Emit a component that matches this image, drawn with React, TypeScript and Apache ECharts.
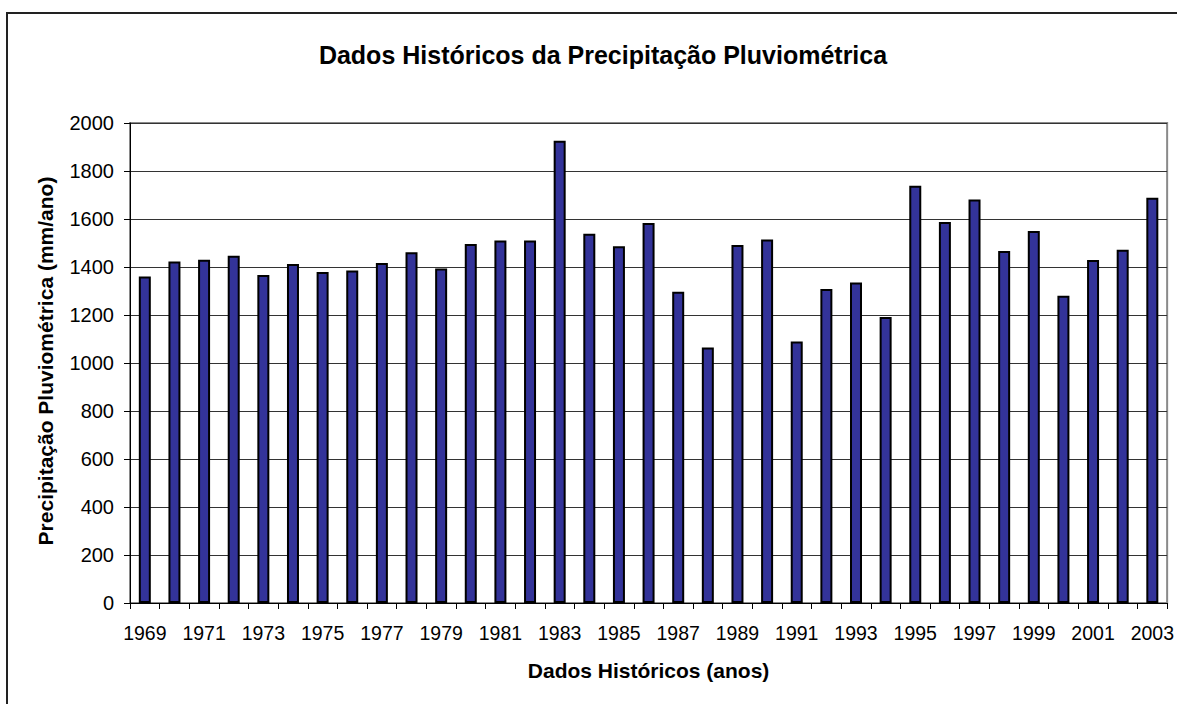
import React, { useEffect, useRef } from "react";
import * as echarts from "echarts";

const years: string[] = [
  "1969", "1970", "1971", "1972", "1973", "1974", "1975", "1976", "1977", "1978",
  "1979", "1980", "1981", "1982", "1983", "1984", "1985", "1986", "1987", "1988",
  "1989", "1990", "1991", "1992", "1993", "1994", "1995", "1996", "1997", "1998",
  "1999", "2000", "2001", "2002", "2003",
];
const precipitation: number[] = [
  1360, 1423, 1430, 1447, 1367, 1412, 1379, 1385, 1417, 1461,
  1394, 1496, 1510, 1510, 1926, 1539, 1486, 1583, 1297, 1065,
  1492, 1515, 1090, 1308, 1335, 1192, 1739, 1587, 1681, 1467,
  1550, 1280, 1429, 1472, 1689,
];
const titleText = "Dados Históricos da Precipitação Pluviométrica";
const xName = "Dados Históricos (anos)";
const yName = "Precipitação Pluviométrica (mm/ano)";

const FONT = "'Liberation Sans', Arial, Helvetica, sans-serif";

export default function App() {
  const ref = useRef<HTMLDivElement>(null);
  useEffect(() => {
    if (!ref.current) return;
    const chart = echarts.init(ref.current, null, { renderer: "svg" });
    chart.setOption({
      animation: false,
      backgroundColor: "#ffffff",
      graphic: [
        {
          type: "rect",
          shape: { x: 7, y: 13, width: 1300, height: 900 },
          style: { fill: "none", stroke: "#222", lineWidth: 2 },
          silent: true,
          z: 0,
        },
        {
          type: "text",
          x: 45,
          y: 361,
          rotation: Math.PI / 2,
          style: {
            text: yName,
            font: `bold 21px ${FONT}`,
            fill: "#000",
            textAlign: "center",
            textVerticalAlign: "middle",
          },
        },
      ],
      title: {
        text: titleText,
        left: 598,
        top: 37,
        textAlign: "center",
        textStyle: { fontFamily: FONT, fontWeight: "bold", fontSize: 25, color: "#000" },
      },
      grid: {
        left: 130,
        top: 123,
        right: 9,
        bottom: 101,
        show: true,
        borderColor: "#8a8a8a",
        borderWidth: 2,
        backgroundColor: "#fff",
      },
      xAxis: {
        type: "category",
        data: years,
        name: xName,
        nameLocation: "middle",
        nameGap: 57,
        nameTextStyle: { fontFamily: FONT, fontWeight: "bold", fontSize: 21, color: "#000" },
        axisLine: { show: true, lineStyle: { color: "#000", width: 1 } },
        axisTick: { show: true, interval: 0, length: 6, lineStyle: { color: "#000" } },
        axisLabel: {
          interval: 1,
          margin: 20,
          fontFamily: FONT,
          fontSize: 19.5,
          color: "#000",
        },
        splitLine: { show: false },
      },
      yAxis: {
        type: "value",
        min: 0,
        max: 2000,
        interval: 200,
        axisLine: { show: true, lineStyle: { color: "#000", width: 1 } },
        axisTick: { show: true, length: 6, lineStyle: { color: "#000" } },
        axisLabel: {
          margin: 16,
          fontFamily: FONT,
          fontSize: 20,
          color: "#000",
          formatter: (v: number) => String(v),
        },
        splitLine: { show: true, lineStyle: { color: "#333", width: 1 } },
      },
      series: [
        {
          type: "bar",
          data: precipitation,
          barWidth: 12,
          itemStyle: { color: "#333399", borderColor: "#000", borderWidth: 2 },
        },
      ],
    });
    return () => chart.dispose();
  }, []);
  return (
    <div
      ref={ref}
      style={{ position: "fixed", left: 0, top: 0, width: 1177, height: 704, background: "#fff" }}
    />
  );
}
